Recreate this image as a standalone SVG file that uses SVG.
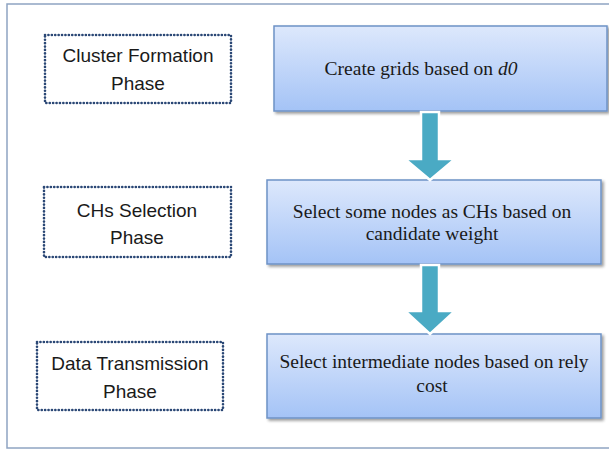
<svg xmlns="http://www.w3.org/2000/svg" width="609" height="449" viewBox="0 0 609 449">
<defs>
<linearGradient id="boxGrad" x1="0" y1="0" x2="0" y2="1">
<stop offset="0" stop-color="#dde8fc"/>
<stop offset="1" stop-color="#a4c3f6"/>
</linearGradient>
<filter id="shadow" x="-5%" y="-5%" width="115%" height="120%">
<feGaussianBlur in="SourceAlpha" stdDeviation="1.5"/>
<feOffset dx="1.5" dy="2" result="b"/>
<feComponentTransfer><feFuncA type="linear" slope="0.4"/></feComponentTransfer>
<feMerge><feMergeNode/><feMergeNode in="SourceGraphic"/></feMerge>
</filter>
</defs>
<style>
.frame{fill:#ffffff;stroke:#8fa4c2;stroke-width:1.5}
.phase{fill:#ffffff;stroke:#2a4775;stroke-width:2.6;stroke-dasharray:0.1 3.3;stroke-linecap:round}
.ptext{font-family:"Liberation Sans",Arial,sans-serif;font-size:19px;fill:#1a1a1a;text-anchor:middle}
.step{fill:url(#boxGrad);stroke:#6e92c6;stroke-width:1.5;filter:url(#shadow)}
.stext{font-family:"Liberation Serif","Times New Roman",serif;font-size:19.5px;fill:#1a1a1a;text-anchor:middle}
.arrow{fill:#4aaac4;stroke:#ffffff;stroke-width:2.5;stroke-linejoin:miter}
</style>
<rect class="frame" x="7" y="4" width="612" height="444"/>
<g id="phase1">
<rect class="phase" x="45" y="35" width="186" height="68"/>
<text class="ptext" x="138" y="62">Cluster Formation</text>
<text class="ptext" x="138" y="90">Phase</text>
</g>
<g id="phase2">
<rect class="phase" x="44" y="187" width="187" height="70"/>
<text class="ptext" x="137" y="217">CHs Selection</text>
<text class="ptext" x="137" y="244">Phase</text>
</g>
<g id="phase3">
<rect class="phase" x="37" y="342" width="186" height="68"/>
<text class="ptext" x="130" y="370">Data Transmission</text>
<text class="ptext" x="130" y="398">Phase</text>
</g>
<g id="step1">
<rect class="step" x="274" y="26" width="333" height="85"/>
<text class="stext" x="421" y="75">Create grids based on <tspan font-style="italic">d0</tspan></text>
</g>
<g id="step2">
<rect class="step" x="267" y="180" width="334" height="84"/>
<text class="stext" x="432" y="218">Select some nodes as CHs based on</text>
<text class="stext" x="432" y="240">candidate weight</text>
</g>
<g id="step3">
<rect class="step" x="267" y="334" width="334" height="84"/>
<text class="stext" x="434" y="368">Select intermediate nodes based on rely</text>
<text class="stext" x="432" y="392">cost</text>
</g>
<g id="connectors">
<polygon class="arrow" points="421,112 439,112 439,159 455,159 430,180 405,159 421,159"/>
<polygon class="arrow" points="421,265 439,265 439,311 455,311 430,334 405,311 421,311"/>
</g>
</svg>
